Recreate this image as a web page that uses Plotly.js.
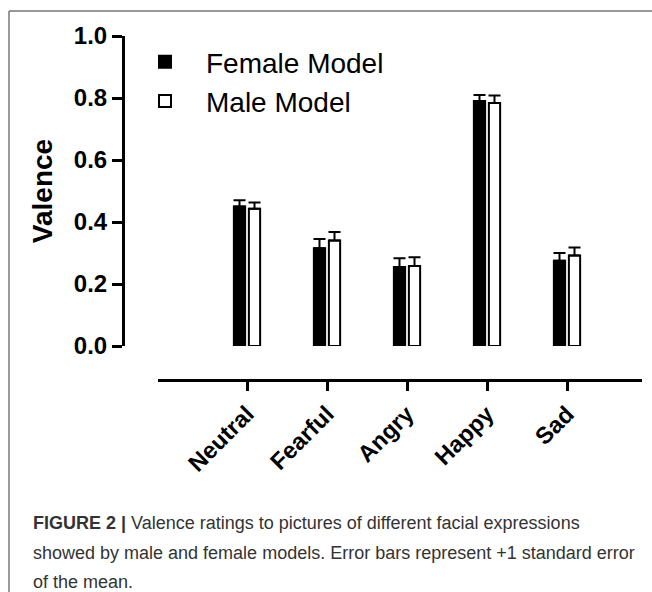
<!DOCTYPE html>
<html><head><meta charset="utf-8">
<script src="https://cdn.plot.ly/plotly-3.0.1.min.js"></script>
<style>html,body{margin:0;padding:0;background:#fff}#chart{width:652px;height:592px}</style>
</head><body><div id="chart"></div>
<script>
// ---- data ----
const categories = ["Neutral", "Fearful", "Angry", "Happy", "Sad"];
const femaleMeans = [0.450, 0.315, 0.255, 0.790, 0.275];
const femaleSE = [0.020, 0.030, 0.028, 0.020, 0.025];
const maleMeans = [0.443, 0.340, 0.258, 0.784, 0.292];
const maleSE = [0.020, 0.028, 0.028, 0.024, 0.026];
const seriesNames = ["Female Model", "Male Model"];
const yTickVals = [0, 0.2, 0.4, 0.6, 0.8, 1.0];
const yTickText = ["0.0", "0.2", "0.4", "0.6", "0.8", "1.0"];
const yTitle = "Valence";
const captionLines = [
  "<b>FIGURE 2 |</b> Valence ratings to pictures of different facial expressions",
  "showed by male and female models. Error bars represent +1 standard error",
  "of the mean."
];

// ---- geometry helpers (pixel -> paper) ----
const W = 652, H = 592;
const M = {l: 123, r: 10, t: 36, b: 212};
const PW = W - M.l - M.r, PH = H - M.t - M.b;
const px = x => (x - M.l) / PW;
const py = y => (H - M.b - y) / PH;

const zeros = categories.map(() => 0);
const traces = [
  {
    type: "bar", name: seriesNames[0], x: categories, y: femaleMeans,
    legendgroup: "f",
    marker: {color: "#000", line: {color: "#000", width: 2}},
    error_y: {type: "data", array: femaleSE, arrayminus: zeros, symmetric: false,
      color: "#000", thickness: 2, width: 6},
    hoverinfo: "skip"
  },
  {
    type: "bar", name: seriesNames[1], x: categories, y: maleMeans,
    legendgroup: "m",
    marker: {color: "#fff", line: {color: "#000", width: 2}},
    error_y: {type: "data", array: maleSE, arrayminus: zeros, symmetric: false,
      color: "#000", thickness: 2, width: 6},
    hoverinfo: "skip"
  }
];

const captionFont = {family: "Liberation Sans, Arial, sans-serif", size: 18, color: "#333"};
const annotations = captionLines.map((t, i) => ({
  xref: "paper", yref: "paper", x: px(31), y: py(523 + i * 29.5),
  xanchor: "left", yanchor: "middle", showarrow: false, text: t, font: captionFont
}));

const layout = {
  width: W, height: H,
  margin: M,
  paper_bgcolor: "#fff", plot_bgcolor: "#fff",
  font: {family: "Liberation Sans, Arial, sans-serif", color: "#000"},
  barmode: "group", bargap: 0.625, bargroupgap: 0.25,
  showlegend: true,
  legend: {
    x: px(124), y: py(37), xanchor: "left", yanchor: "top",
    font: {size: 28, color: "#000"}, traceorder: "grouped", tracegroupgap: 0,
    itemwidth: 72,
    bgcolor: "rgba(0,0,0,0)", borderwidth: 0
  },
  xaxis: {
    type: "category", domain: [px(158), 1], anchor: "free", position: 0,
    range: [-89 / 80, -89 / 80 + (W - M.r - 158) / 80],
    showline: true, linecolor: "#000", linewidth: 3,
    ticks: "outside", ticklen: 9, tickwidth: 3, tickcolor: "#000",
    tickangle: -45, showgrid: false, zeroline: false,
    tickfont: {size: 23.5, family: "Liberation Sans, Arial, sans-serif", weight: "bold", color: "#000"}
  },
  yaxis: {
    domain: [py(346), 1], anchor: "free", position: 0,
    range: [0, 1], tickvals: yTickVals, ticktext: yTickText,
    showline: true, linecolor: "#000", linewidth: 3,
    ticks: "outside", ticklen: 10, tickwidth: 3, tickcolor: "#000",
    showgrid: false, zeroline: false,
    tickfont: {size: 24, family: "Liberation Sans, Arial, sans-serif", weight: "bold", color: "#000"},
    title: {text: "<b>" + yTitle + "</b>", standoff: 12,
      font: {size: 28, family: "Liberation Sans, Arial, sans-serif", color: "#000"}}
  },
  shapes: [
    {type: "line", xref: "paper", yref: "paper", x0: px(9), x1: px(652), y0: py(11), y1: py(11),
      line: {color: "#777", width: 1.5}},
    {type: "line", xref: "paper", yref: "paper", x0: px(9), x1: px(9), y0: py(11), y1: py(592),
      line: {color: "#777", width: 1.5}}
  ],
  annotations: annotations
};

Plotly.newPlot("chart", traces, layout, {staticPlot: true, displayModeBar: false});
</script>
</body></html>
